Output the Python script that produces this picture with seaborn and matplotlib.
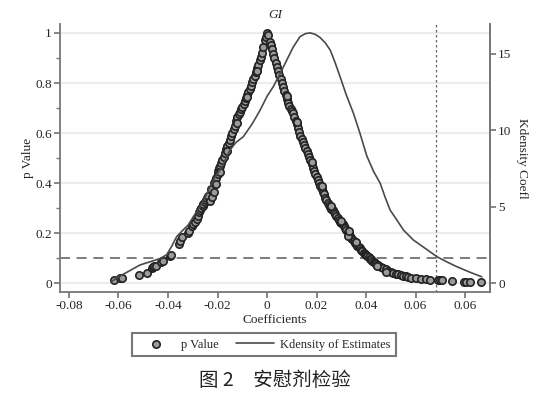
import numpy as np
import pandas as pd
import seaborn as sns
from matplotlib import pyplot as plt

# placebo estimates: coefficient vs p value
pv_coef = [-0.0618, -0.0592, -0.0586, -0.0517, -0.0486, -0.0466, -0.0460, -0.0455, -0.0450, -0.0428,
           -0.0422, -0.0390, -0.0386, -0.0355, -0.0350, -0.0345, -0.0318, -0.0314, -0.0305, -0.0300,
           -0.0290, -0.0284, -0.0278, -0.0273, -0.0270, -0.0265, -0.0260, -0.0257, -0.0252, -0.0248,
           -0.0244, -0.0240, -0.0226, -0.0215, -0.0210, -0.0205, -0.0200, -0.0196, -0.0192, -0.0188,
           -0.0184, -0.0180, -0.0175, -0.0170, -0.0165, -0.0160, -0.0155, -0.0150, -0.0145, -0.0140,
           -0.0135, -0.0130, -0.0125, -0.0120, -0.0115, -0.0110, -0.0105, -0.0100, -0.0095, -0.0090,
           -0.0085, -0.0080, -0.0075, -0.0070, -0.0065, -0.0060, -0.0055, -0.0050, -0.0045, -0.0040,
           -0.0035, -0.0030, -0.0025, -0.0020, -0.0015, -0.0010, -0.0005, 0.0000,
           0.0005, 0.0010, 0.0015, 0.0020, 0.0025, 0.0030, 0.0035, 0.0040, 0.0045, 0.0050,
           0.0055, 0.0060, 0.0065, 0.0070, 0.0075, 0.0080, 0.0085, 0.0090, 0.0095, 0.0100,
           0.0105, 0.0110, 0.0115, 0.0120, 0.0125, 0.0130, 0.0135, 0.0140, 0.0145, 0.0150,
           0.0155, 0.0160, 0.0165, 0.0170, 0.0175, 0.0180, 0.0185, 0.0190, 0.0195, 0.0200,
           0.0205, 0.0210, 0.0215, 0.0220, 0.0225, 0.0230, 0.0235, 0.0240, 0.0245, 0.0250,
           0.0255, 0.0260, 0.0265, 0.0270, 0.0275, 0.0280, 0.0285, 0.0290, 0.0295, 0.0300,
           0.0305, 0.0310, 0.0315, 0.0320, 0.0325, 0.0330, 0.0335, 0.0340, 0.0345, 0.0350,
           0.0355, 0.0360, 0.0365, 0.0370, 0.0375, 0.0380, 0.0385, 0.0390, 0.0395, 0.0400,
           0.0405, 0.0410, 0.0415, 0.0420, 0.0425, 0.0430, 0.0435, 0.0440, 0.0450, 0.0460,
           0.0470, 0.0480, 0.0490, 0.0500, 0.0510, 0.0520, 0.0530, 0.0540, 0.0550, 0.0560,
           0.0570, 0.0580, 0.0600, 0.0620, 0.0640, 0.0660, 0.0690, 0.0700, 0.0705, 0.0745,
           0.0795, 0.0805, 0.0820, 0.0866, 0.0325, 0.0445, 0.0480,
           -0.0230, -0.0222, -0.0215, -0.0205, -0.0190, -0.0160, -0.0120, -0.0080, -0.0040,
           0.0080, 0.0120, 0.0180, 0.0220, 0.0260, 0.0300, 0.0330, 0.0360]
pv_val = [0.012, 0.019, 0.022, 0.032, 0.039, 0.060, 0.064, 0.068, 0.070, 0.085,
          0.090, 0.108, 0.113, 0.158, 0.170, 0.183, 0.200, 0.208, 0.228, 0.235,
          0.245, 0.255, 0.270, 0.285, 0.292, 0.300, 0.310, 0.318, 0.325, 0.333,
          0.342, 0.350, 0.378, 0.400, 0.410, 0.420, 0.435, 0.448, 0.460, 0.470,
          0.480, 0.492, 0.505, 0.520, 0.535, 0.548, 0.560, 0.572, 0.588, 0.600,
          0.615, 0.630, 0.648, 0.665, 0.675, 0.685, 0.695, 0.705, 0.718, 0.730,
          0.740, 0.752, 0.765, 0.778, 0.790, 0.805, 0.818, 0.830, 0.845, 0.858,
          0.872, 0.890, 0.905, 0.920, 0.945, 0.970, 0.985, 0.998,
          0.990, 0.962, 0.950, 0.935, 0.915, 0.900, 0.880, 0.865, 0.848, 0.832,
          0.818, 0.800, 0.785, 0.768, 0.752, 0.738, 0.722, 0.708, 0.695, 0.690,
          0.680, 0.665, 0.650, 0.635, 0.620, 0.605, 0.590, 0.578, 0.565, 0.552,
          0.540, 0.528, 0.515, 0.505, 0.492, 0.478, 0.462, 0.450, 0.438, 0.425,
          0.412, 0.400, 0.388, 0.375, 0.365, 0.355, 0.342, 0.332, 0.322, 0.312,
          0.305, 0.298, 0.292, 0.285, 0.275, 0.268, 0.260, 0.252, 0.246, 0.240,
          0.235, 0.228, 0.220, 0.212, 0.205, 0.198, 0.190, 0.182, 0.176, 0.168,
          0.162, 0.156, 0.150, 0.145, 0.140, 0.132, 0.128, 0.122, 0.118, 0.112,
          0.108, 0.104, 0.098, 0.095, 0.090, 0.086, 0.082, 0.078, 0.072, 0.066,
          0.060, 0.055, 0.050, 0.046, 0.042, 0.038, 0.035, 0.032, 0.030, 0.028,
          0.025, 0.022, 0.020, 0.018, 0.016, 0.014, 0.013, 0.012, 0.012, 0.008,
          0.006, 0.005, 0.005, 0.004, 0.190, 0.070, 0.045,
          0.330, 0.345, 0.365, 0.395, 0.445, 0.530, 0.640, 0.745, 0.848,
          0.750, 0.645, 0.485, 0.390, 0.310, 0.250, 0.210, 0.165]

# kernel density of estimates
kd_x = [-0.0628, -0.0600, -0.0555, -0.0513, -0.0470, -0.0432, -0.0405, -0.0385, -0.0365, -0.0340,
        -0.0318, -0.0295, -0.0270, -0.0250, -0.0230, -0.0210, -0.0190, -0.0170, -0.0150, -0.0125,
        -0.0096, -0.0060, -0.0028, 0.0000, 0.0025, 0.0050, 0.0080, 0.0105, 0.0133, 0.0155,
        0.0174, 0.0195, 0.0214, 0.0235, 0.0255, 0.0275, 0.0295, 0.0320, 0.0349, 0.0375,
        0.0403, 0.0430, 0.0457, 0.0477, 0.0497, 0.0525, 0.0551, 0.0591, 0.0640, 0.0686,
        0.0730, 0.0766, 0.0820, 0.0867]
kd_y = [0.10, 0.40, 0.80, 1.18, 1.40, 1.60, 1.85, 2.40, 3.03, 3.45,
        3.80, 4.40, 4.99, 5.60, 6.29, 6.90, 7.39, 8.00, 8.69, 9.20,
        9.56, 10.40, 11.30, 12.20, 12.83, 13.60, 14.58, 15.40, 16.10, 16.30,
        16.35, 16.25, 16.05, 15.70, 15.23, 14.40, 13.48, 12.30, 11.09, 9.80,
        8.30, 7.30, 6.52, 5.60, 4.77, 4.10, 3.46, 2.81, 2.25, 1.72,
        1.35, 1.07, 0.70, 0.41]

x_ticks = [-0.08, -0.06, -0.04, -0.02, 0, 0.02, 0.04, 0.06, 0.08]
x_ticklabels = ['-0.08', '-0.06', '-0.04', '-0.02', '0', '0.02', '0.04', '0.06', '0.06']
p_ticks = [0, 0.2, 0.4, 0.6, 0.8, 1]
p_ticklabels = ['0', '0.2', '0.4', '0.6', '0.8', '1']
kd_ticks = [0, 5, 10, 15]
p_cut = 0.1
coef_true = 0.0683

sns.set_theme(style='white')
plt.rcParams['font.family'] = ['Liberation Serif', 'DejaVu Serif']

fig = plt.figure(figsize=(5.48, 3.96), dpi=100)
ax = fig.add_axes([0.1095, 0.2626, 0.7845, 0.6768])
ax2 = ax.twinx()

pv = pd.DataFrame({'coef': pv_coef, 'p': pv_val})
kd = pd.DataFrame({'x': kd_x, 'y': kd_y})

for y in p_ticks:
    ax.axhline(y, color='#ececec', lw=1.5, zorder=0)
sns.scatterplot(data=pv, x='coef', y='p', ax=ax, marker='o', s=28,
                facecolor='#9a9a9a', edgecolor='#222222', linewidth=1.2,
                label='p Value', zorder=3, legend=False)
ax.axhline(p_cut, color='#666666', lw=1.2, ls=(0, (6, 4)), zorder=2)
ax.axvline(coef_true, color='#666666', lw=0.9, ls=(0, (2, 2)), zorder=2)
sns.lineplot(data=kd, x='x', y='y', ax=ax2, sort=False, color='#4a4a4a', lw=1.2,
             label='Kdensity of Estimates', legend=False)

ax.set_xlim(-0.0836, 0.090)
ax.set_ylim(-0.036, 1.036)
ax2.set_ylim(-0.588, 16.93)

ax.set_xticks(x_ticks)
ax.set_xticklabels(x_ticklabels)
ax.set_yticks(p_ticks)
ax.set_yticklabels(p_ticklabels)
ax.set_yticks([0.1, 0.3, 0.5, 0.7, 0.9], minor=True)
ax2.set_yticks(kd_ticks)

for a in (ax, ax2):
    for s in a.spines.values():
        s.set_color('#777777')
        s.set_linewidth(1.3)
    a.spines['top'].set_visible(False)
    a.tick_params(axis='both', which='both', direction='out', color='#777777',
                  labelsize=9.5, pad=2)
ax.tick_params(axis='both', which='major', length=4, left=True, bottom=True)
ax.tick_params(axis='y', which='minor', length=3, left=True)
ax2.tick_params(axis='y', which='major', length=4, right=True)
ax2.spines['left'].set_visible(False)
ax2.spines['bottom'].set_visible(False)

ax.set_xlabel('Coefficients', fontsize=9.5, labelpad=1)
ax.set_ylabel('p Value', fontsize=9.5, labelpad=1)
ax2.set_ylabel('Kdensity Coefl', fontsize=9.5, rotation=270, labelpad=12)
ax.set_title('GI', fontsize=9.5, style='italic', pad=4)
ax.grid(False)
ax2.grid(False)

h1, l1 = ax.get_legend_handles_labels()
h2, l2 = ax2.get_legend_handles_labels()
leg = fig.legend(h1 + h2, l1 + l2, loc='center', bbox_to_anchor=(0.482, 0.13),
                 ncol=2, fontsize=9, frameon=True, fancybox=False,
                 handlelength=3.0, columnspacing=1.4, borderpad=0.45,
                 handletextpad=0.5, borderaxespad=0)
leg.get_frame().set_edgecolor('#555555')
leg.get_frame().set_linewidth(1.5)

fig.text(0.501, 0.038, '图 2　安慰剂检验', ha='center', va='center', fontsize=14,
         fontweight='medium', family=['Noto Sans CJK SC', 'DejaVu Sans'], color='#222222')

fig.savefig('out.png', dpi=100)
